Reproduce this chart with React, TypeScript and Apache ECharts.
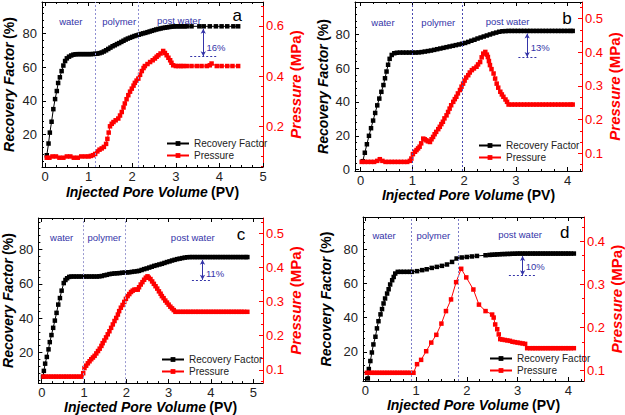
import React, { useEffect, useRef } from 'react';
import * as echarts from 'echarts';

const FONT = '"Liberation Sans", Arial, Helvetica, sans-serif';
const BLUE = '#3434a8';
const RED = '#ff0000';

// ---------------- data (x = injected PV, RF in %, P in MPa) ----------------
const aRF = [[0.04,7.5],[0.08,14.5],[0.11,21],[0.15,27.5],[0.19,35],[0.23,41],[0.27,45.8],[0.30,50.6],[0.34,54],[0.38,57.7],[0.42,61],[0.46,63.7],[0.50,65.3],[0.55,66.3],[0.60,67],[0.65,67.5],[0.70,67.7],[0.75,67.8],[0.80,67.8],[0.85,67.8],[0.90,67.8],[0.95,67.8],[1.00,67.8],[1.05,67.8],[1.10,67.9],[1.15,68],[1.20,68.1],[1.25,68.4],[1.30,68.8],[1.35,69.4],[1.40,70.1],[1.45,70.9],[1.50,71.7],[1.55,72.5],[1.60,73.1],[1.65,73.8],[1.70,74.4],[1.75,75.1],[1.80,75.8],[1.85,76.5],[1.90,77.1],[1.95,77.6],[2.00,78.1],[2.05,78.6],[2.10,79],[2.15,79.4],[2.20,79.8],[2.25,80.2],[2.30,80.5],[2.35,80.9],[2.40,81.3],[2.45,81.7],[2.50,82.1],[2.55,82.5],[2.60,82.8],[2.65,83.1],[2.70,83.4],[2.75,83.6],[2.80,83.8],[2.85,84],[2.90,84.2],[2.95,84.3],[3.00,84.4],[3.05,84.4],[3.10,84.4],[3.15,84.4],[3.20,84.4],[3.25,84.4],[3.36,84.4],[3.54,84.4],[3.64,84.4],[3.78,84.4],[3.92,84.4],[4.05,84.4],[4.18,84.4],[4.32,84.4],[4.43,84.4]];
const aP = [[0.04,0.075],[0.1,0.075],[0.17,0.08],[0.25,0.08],[0.33,0.075],[0.42,0.075],[0.5,0.08],[0.58,0.08],[0.66,0.075],[0.75,0.075],[0.83,0.08],[0.92,0.08],[1.0,0.08],[1.05,0.082],[1.1,0.085],[1.15,0.09],[1.2,0.1],[1.25,0.107],[1.3,0.112],[1.35,0.118],[1.4,0.13],[1.43,0.15],[1.46,0.175],[1.49,0.2],[1.53,0.21],[1.57,0.217],[1.62,0.224],[1.68,0.231],[1.72,0.243],[1.76,0.257],[1.8,0.275],[1.83,0.291],[1.87,0.308],[1.91,0.324],[1.95,0.338],[1.99,0.35],[2.03,0.362],[2.06,0.373],[2.1,0.382],[2.14,0.39],[2.18,0.405],[2.22,0.42],[2.26,0.432],[2.29,0.44],[2.35,0.448],[2.41,0.456],[2.47,0.463],[2.52,0.47],[2.56,0.477],[2.6,0.483],[2.65,0.49],[2.71,0.5],[2.75,0.492],[2.79,0.483],[2.83,0.473],[2.87,0.463],[2.9,0.453],[2.94,0.443],[3.0,0.44],[3.06,0.44],[3.12,0.44],[3.17,0.44],[3.25,0.44],[3.36,0.44],[3.48,0.44],[3.59,0.44],[3.71,0.44],[3.78,0.443],[3.82,0.45],[3.94,0.44],[4.05,0.44],[4.18,0.44],[4.3,0.44],[4.43,0.44]];

const bRF = [[0.04,5],[0.08,10],[0.12,15],[0.16,20],[0.2,24.5],[0.24,29],[0.28,33.5],[0.32,38],[0.36,42],[0.4,46],[0.44,50],[0.47,54],[0.5,58],[0.53,62],[0.56,65.5],[0.6,67.8],[0.65,68.8],[0.7,69.1],[0.76,69.2],[0.82,69.2],[0.88,69.2],[0.94,69.2],[1.0,69.2],[1.06,69.2],[1.12,69.3],[1.18,69.5],[1.24,69.8],[1.3,70.1],[1.36,70.4],[1.42,70.8],[1.48,71.2],[1.54,71.6],[1.6,72],[1.66,72.4],[1.72,72.8],[1.78,73.2],[1.84,73.6],[1.9,74],[1.96,74.4],[2.02,74.9],[2.08,75.5],[2.14,76.2],[2.2,76.8],[2.26,77.5],[2.32,78.1],[2.38,78.7],[2.44,79.3],[2.5,79.9],[2.56,80.5],[2.62,81],[2.68,81.5],[2.74,81.8],[2.8,81.9],[2.86,82],[2.92,82],[2.98,82],[3.04,82],[3.1,82],[3.16,82],[3.22,82],[3.28,82],[3.34,82],[3.4,82],[3.46,82],[3.52,82],[3.58,82],[3.64,82],[3.7,82],[3.76,82],[3.82,82],[3.88,82],[3.94,82],[4.0,82],[4.06,82],[4.1,82]];
const bP = [[0.02,0.075],[0.08,0.075],[0.14,0.075],[0.2,0.075],[0.26,0.075],[0.32,0.078],[0.37,0.083],[0.42,0.078],[0.48,0.075],[0.54,0.075],[0.6,0.075],[0.66,0.075],[0.72,0.075],[0.78,0.075],[0.84,0.075],[0.9,0.075],[0.95,0.078],[0.98,0.085],[1.01,0.098],[1.05,0.105],[1.08,0.11],[1.11,0.115],[1.14,0.12],[1.17,0.13],[1.21,0.144],[1.24,0.142],[1.27,0.139],[1.3,0.136],[1.34,0.134],[1.37,0.142],[1.4,0.149],[1.43,0.157],[1.46,0.164],[1.5,0.172],[1.53,0.179],[1.56,0.187],[1.59,0.194],[1.62,0.204],[1.66,0.213],[1.69,0.223],[1.72,0.233],[1.75,0.243],[1.79,0.253],[1.82,0.261],[1.85,0.268],[1.88,0.278],[1.92,0.288],[1.95,0.298],[1.98,0.307],[2.01,0.316],[2.04,0.325],[2.08,0.332],[2.11,0.34],[2.15,0.347],[2.19,0.352],[2.24,0.357],[2.27,0.364],[2.31,0.371],[2.34,0.385],[2.37,0.396],[2.41,0.401],[2.44,0.393],[2.46,0.386],[2.48,0.374],[2.5,0.362],[2.53,0.35],[2.57,0.337],[2.6,0.322],[2.63,0.307],[2.66,0.295],[2.7,0.283],[2.73,0.275],[2.76,0.268],[2.8,0.26],[2.83,0.253],[2.86,0.245],[2.92,0.245],[2.98,0.245],[3.04,0.245],[3.1,0.245],[3.16,0.245],[3.22,0.245],[3.28,0.245],[3.34,0.245],[3.4,0.245],[3.46,0.245],[3.52,0.245],[3.58,0.245],[3.64,0.245],[3.7,0.245],[3.76,0.245],[3.82,0.245],[3.88,0.245],[3.94,0.245],[4.0,0.245],[4.06,0.245],[4.1,0.245]];

const cRF = [[0.03,6],[0.05,9.4],[0.08,13.6],[0.12,17.5],[0.16,21.9],[0.19,26.1],[0.23,30.2],[0.27,34.4],[0.31,38.6],[0.35,43.1],[0.39,47.9],[0.43,51.7],[0.47,56],[0.52,60.4],[0.56,62.2],[0.6,63.2],[0.65,64],[0.7,64.2],[0.76,64.2],[0.82,64.2],[0.88,64.2],[0.94,64.2],[1.0,64.2],[1.06,64.2],[1.12,64.2],[1.18,64.2],[1.24,64.2],[1.3,64.2],[1.36,64.3],[1.42,64.5],[1.48,64.9],[1.54,65.2],[1.6,65.6],[1.66,65.8],[1.72,66],[1.78,66.1],[1.84,66.2],[1.9,66.4],[1.96,66.5],[2.02,66.6],[2.07,66.7],[2.13,66.9],[2.19,67.1],[2.25,67.3],[2.3,67.5],[2.36,68],[2.42,68.5],[2.48,68.9],[2.54,69.4],[2.6,69.9],[2.66,70.4],[2.72,70.8],[2.78,71.2],[2.84,71.6],[2.9,72.1],[2.96,72.6],[3.02,73],[3.08,73.5],[3.14,73.9],[3.2,74.3],[3.26,74.6],[3.32,74.9],[3.38,75.2],[3.44,75.4],[3.5,75.5],[3.56,75.5],[3.62,75.5],[3.68,75.5],[3.74,75.5],[3.8,75.5],[3.86,75.5],[3.92,75.5],[3.98,75.5],[4.04,75.5],[4.1,75.5],[4.16,75.5],[4.22,75.5],[4.28,75.5],[4.34,75.5],[4.4,75.5],[4.46,75.5],[4.52,75.5],[4.58,75.5],[4.64,75.5],[4.7,75.5],[4.76,75.5],[4.82,75.5],[4.86,75.5]];
const cP = [[0.04,0.08],[0.1,0.08],[0.16,0.08],[0.22,0.08],[0.28,0.08],[0.34,0.08],[0.4,0.08],[0.46,0.08],[0.52,0.08],[0.58,0.08],[0.64,0.08],[0.7,0.08],[0.76,0.08],[0.82,0.08],[0.88,0.08],[0.94,0.08],[0.98,0.09],[1.01,0.105],[1.05,0.112],[1.09,0.119],[1.13,0.125],[1.17,0.131],[1.21,0.136],[1.25,0.141],[1.29,0.148],[1.33,0.155],[1.37,0.162],[1.41,0.17],[1.44,0.178],[1.48,0.186],[1.52,0.195],[1.56,0.204],[1.6,0.213],[1.64,0.223],[1.68,0.233],[1.72,0.243],[1.76,0.252],[1.8,0.262],[1.83,0.272],[1.87,0.282],[1.91,0.29],[1.95,0.299],[1.99,0.308],[2.03,0.316],[2.07,0.322],[2.11,0.328],[2.15,0.332],[2.19,0.335],[2.23,0.335],[2.27,0.335],[2.3,0.342],[2.34,0.35],[2.38,0.357],[2.42,0.364],[2.46,0.37],[2.5,0.374],[2.53,0.37],[2.57,0.366],[2.61,0.359],[2.65,0.352],[2.69,0.345],[2.73,0.338],[2.77,0.33],[2.81,0.323],[2.84,0.316],[2.88,0.31],[2.92,0.303],[2.96,0.297],[3.0,0.291],[3.04,0.285],[3.08,0.28],[3.12,0.275],[3.16,0.27],[3.22,0.27],[3.28,0.27],[3.34,0.27],[3.4,0.27],[3.46,0.27],[3.52,0.27],[3.58,0.27],[3.64,0.27],[3.7,0.27],[3.76,0.27],[3.82,0.27],[3.88,0.27],[3.94,0.27],[4.0,0.27],[4.06,0.27],[4.12,0.27],[4.18,0.27],[4.24,0.27],[4.3,0.27],[4.36,0.27],[4.42,0.27],[4.48,0.27],[4.54,0.27],[4.6,0.27],[4.66,0.27],[4.72,0.27],[4.78,0.27],[4.86,0.27]];

const dRF = [[0.05,4.4],[0.07,9.9],[0.1,14.6],[0.13,19.6],[0.16,24.3],[0.2,28.8],[0.23,33.7],[0.26,37.9],[0.3,41.9],[0.33,45],[0.36,48.3],[0.39,51.2],[0.43,54.1],[0.46,56.6],[0.49,59.4],[0.53,61.9],[0.56,63.8],[0.59,65.8],[0.64,66.8],[0.7,66.8],[0.76,66.8],[0.82,66.8],[0.88,66.8],[0.92,66.8],[1.02,67.2],[1.12,67.8],[1.21,68.3],[1.31,69.1],[1.41,69.7],[1.51,70.3],[1.61,71.1],[1.71,72.6],[1.8,74.6],[1.9,75.2],[2.0,75.5],[2.1,75.8],[2.2,76.1],[2.37,76.5],[2.45,76.7],[2.5,76.8],[2.55,76.9],[2.6,77],[2.65,77.1],[2.7,77.2],[2.75,77.2],[2.8,77.3],[2.85,77.3],[2.9,77.4],[2.95,77.4],[3.0,77.5],[3.05,77.5],[3.1,77.5],[3.15,77.5],[3.2,77.5],[3.25,77.5],[3.3,77.5],[3.35,77.5],[3.4,77.5],[3.45,77.5],[3.5,77.5],[3.55,77.5],[3.6,77.5],[3.65,77.5],[3.7,77.5],[3.75,77.5],[3.8,77.5],[3.85,77.5],[3.9,77.5],[3.95,77.5],[4.0,77.5],[4.05,77.5],[4.11,77.5]];
const dP = [[0.03,0.095],[0.08,0.095],[0.13,0.095],[0.18,0.095],[0.23,0.095],[0.28,0.095],[0.33,0.095],[0.38,0.095],[0.43,0.095],[0.48,0.095],[0.53,0.095],[0.58,0.095],[0.63,0.095],[0.68,0.095],[0.73,0.095],[0.78,0.095],[0.83,0.095],[0.88,0.095],[0.95,0.095],[1.02,0.115],[1.1,0.125],[1.2,0.145],[1.3,0.165],[1.4,0.183],[1.5,0.209],[1.59,0.238],[1.69,0.265],[1.79,0.305],[1.89,0.336],[1.99,0.316],[2.13,0.288],[2.24,0.253],[2.37,0.238],[2.5,0.23],[2.53,0.223],[2.56,0.207],[2.6,0.196],[2.63,0.184],[2.66,0.173],[2.7,0.172],[2.75,0.171],[2.8,0.17],[2.85,0.169],[2.9,0.167],[2.95,0.166],[3.0,0.165],[3.05,0.164],[3.1,0.163],[3.15,0.162],[3.19,0.152],[3.25,0.152],[3.3,0.152],[3.35,0.152],[3.4,0.152],[3.45,0.152],[3.5,0.152],[3.55,0.152],[3.6,0.152],[3.65,0.152],[3.7,0.152],[3.75,0.152],[3.8,0.152],[3.85,0.152],[3.9,0.152],[3.95,0.152],[4.0,0.152],[4.05,0.152],[4.11,0.152]];

// ---------------- tick labels ----------------
const xTicks5 = [0, 1, 2, 3, 4, 5];
const xTicks4 = [0, 1, 2, 3, 4];
const rfTicksA = [20, 40, 60, 80];
const rfTicksB = [0, 20, 40, 60, 80];
const pTicksA = [0.2, 0.4, 0.6];
const pTicksB = [0.1, 0.2, 0.3, 0.4, 0.5];
const pTicksD = [0.1, 0.2, 0.3, 0.4];

const phaseNames = ['water', 'polymer', 'post water'];
const panelLetters = ['a', 'b', 'c', 'd'];
const increments = ['16%', '13%', '11%', '10%'];
const phaseBounds = [[1.15, 2.14], [0.99, 1.97], [0.98, 1.98], [0.9, 1.84]];

// ---------------- layout ----------------
const panels = [
  {
    rf: aRF, p: aP, grid: { left: 42, top: 2, width: 221, height: 165 },
    x: [-0.07, 5], yl: [0.5, 98.9], yr: [0.038, 0.695],
    xTicks: xTicks5, ylTicks: rfTicksA, yrTicks: pTicksA, xMinor: 0.25, ylMinor: 4, yrMinor: 0.04,
    phaseColor: '#8f8fd2',
    phasePos: [[0.59, 87], [1.7, 87], [3.07, 88]], letterPos: [4.41, 91],
    arrow: [3.63, 83, 66.5], dash: [3.33, 3.94, 66.5], incPos: [3.69, 72],
    legend: { left: 166, top: 138 }, xGap: 18, ylGap: 26, yrGap: 22,
  },
  {
    rf: bRF, p: bP, grid: { left: 355, top: 2, width: 227, height: 169 },
    x: [-0.11, 4.28], yl: [-0.8, 99.1], yr: [0.048, 0.549],
    xTicks: xTicks4, ylTicks: rfTicksB, yrTicks: pTicksB, xMinor: 0.25, ylMinor: 4, yrMinor: 0.1 / 3,
    phaseColor: '#4a4ab0',
    phasePos: [[0.43, 86.7], [1.5, 86.7], [2.84, 87.3]], letterPos: [3.99, 89.3],
    arrow: [3.22, 80.5, 66.6], dash: [3.05, 3.41, 66.6], incPos: [3.28, 72.4],
    legend: { left: 478, top: 140 }, xGap: 15, ylGap: 25, yrGap: 24,
  },
  {
    rf: cRF, p: cP, grid: { left: 37, top: 218, width: 226, height: 166 },
    x: [-0.08, 5.23], yl: [2.3, 98.2], yr: [0.061, 0.545],
    xTicks: xTicks5, ylTicks: rfTicksA, yrTicks: pTicksB, xMinor: 0.25, ylMinor: 4, yrMinor: 0.1 / 3,
    phaseColor: '#9a9ad0',
    phasePos: [[0.47, 86.9], [1.48, 86.9], [3.57, 86.9]], letterPos: [4.71, 88.7],
    arrow: [3.8, 74, 62.3], dash: [3.55, 4.01, 62.3], incPos: [3.87, 66.2],
    legend: { left: 161, top: 354 }, xGap: 16, ylGap: 21, yrGap: 25,
  },
  {
    rf: dRF, p: dP, grid: { left: 363, top: 217, width: 221, height: 164 },
    x: [-0.045, 4.31], yl: [2.9, 98.9], yr: [0.076, 0.456],
    xTicks: xTicks4, ylTicks: rfTicksA, yrTicks: pTicksD, xMinor: 0.25, ylMinor: 4, yrMinor: 0.1 / 3,
    phaseColor: '#7c7cc8',
    phasePos: [[0.37, 88.2], [1.34, 88.2], [3.05, 88.6]], letterPos: [3.93, 90.1],
    arrow: [3.1, 76, 64.8], dash: [2.83, 3.35, 64.8], incPos: [3.15, 69.7],
    legend: { left: 489, top: 353 }, xGap: 16, ylGap: 30, yrGap: 26,
  },
];

function tickRange(min: number, max: number, step: number) {
  const out: number[] = [];
  const s = Math.ceil((min - 1e-9) / step);
  for (let k = s; k * step <= max + 1e-9; k++) out.push(+(k * step).toFixed(6));
  return out;
}

function textMark(x: number, y: number, text: string, color: string, size: number, pos: string) {
  return {
    coord: [x, y], symbol: 'rect', symbolSize: 1, itemStyle: { color: 'rgba(0,0,0,0)' },
    label: { show: true, position: pos, distance: 0, formatter: text, color, fontSize: size, fontFamily: FONT },
  };
}

function buildOption() {
  const xAxis: any[] = [];
  const yAxis: any[] = [];
  const series: any[] = [];
  const legend: any[] = [];
  const hidden = { show: false };
  const nameRich = (color: string, size: number) => ({
    bi: { fontStyle: 'italic', fontWeight: 'bold', fontSize: size, fontFamily: FONT, color },
    b: { fontWeight: 'bold', fontSize: size, fontFamily: FONT, color },
  });

  panels.forEach((p, i) => {
    const xb = xAxis.length;
    const yb = yAxis.length;
    const baseX = { gridIndex: i, type: 'value', min: p.x[0], max: p.x[1], splitLine: hidden };
    xAxis.push(
      {
        ...baseX, position: 'bottom',
        axisLine: { show: true, onZero: false, lineStyle: { color: '#000', width: 1 } },
        axisTick: { show: true, inside: true, length: 4, customValues: p.xTicks, lineStyle: { color: '#000' } },
        axisLabel: { show: true, customValues: p.xTicks, fontSize: 13, color: '#222', margin: 3, fontFamily: FONT },
        name: '{bi|Injected Pore Volume} {b|(PV)}', nameLocation: 'middle', nameGap: p.xGap,
        nameTextStyle: { rich: nameRich('#000', 14) },
      },
      {
        ...baseX, position: 'bottom', axisLine: { show: false, onZero: false },
        axisTick: { show: true, inside: true, length: 2, customValues: tickRange(p.x[0], p.x[1], p.xMinor), lineStyle: { color: '#000' } },
        axisLabel: hidden,
      },
      {
        ...baseX, position: 'top',
        axisLine: { show: true, onZero: false, lineStyle: { color: '#000', width: 1 } },
        axisTick: { show: true, inside: true, length: 4, customValues: p.xTicks, lineStyle: { color: '#000' } },
        axisLabel: hidden,
      },
      {
        ...baseX, position: 'top', axisLine: { show: false, onZero: false },
        axisTick: { show: true, inside: true, length: 2, customValues: tickRange(p.x[0], p.x[1], p.xMinor), lineStyle: { color: '#000' } },
        axisLabel: hidden,
      },
    );
    const baseYL = { gridIndex: i, type: 'value', min: p.yl[0], max: p.yl[1], splitLine: hidden, position: 'left' };
    const baseYR = { gridIndex: i, type: 'value', min: p.yr[0], max: p.yr[1], splitLine: hidden, position: 'right' };
    yAxis.push(
      {
        ...baseYL,
        axisLine: { show: true, onZero: false, lineStyle: { color: '#000', width: 1 } },
        axisTick: { show: true, inside: true, length: 4, customValues: p.ylTicks, lineStyle: { color: '#000' } },
        axisLabel: { show: true, customValues: p.ylTicks, fontSize: 13, color: '#222', margin: 5, fontFamily: FONT },
        name: '{bi|Recovery Factor} {b|(%)}', nameLocation: 'middle', nameGap: p.ylGap, nameRotate: 90,
        nameTextStyle: { rich: nameRich('#000', 14) },
      },
      {
        ...baseYL, axisLine: { show: false, onZero: false },
        axisTick: { show: true, inside: true, length: 2, customValues: tickRange(p.yl[0], p.yl[1], p.ylMinor), lineStyle: { color: '#000' } },
        axisLabel: hidden,
      },
      {
        ...baseYR,
        axisLine: { show: true, onZero: false, lineStyle: { color: RED, width: 1 } },
        axisTick: { show: true, inside: true, length: 4, customValues: p.yrTicks, lineStyle: { color: RED } },
        axisLabel: { show: true, customValues: p.yrTicks, fontSize: 13, color: RED, margin: 3, fontFamily: FONT },
        name: '{bi|Pressure} {b|(MPa)}', nameLocation: 'middle', nameGap: p.yrGap - 1, nameRotate: 90,
        nameTextStyle: { rich: nameRich(RED, 15) },
      },
      {
        ...baseYR, axisLine: { show: false, onZero: false },
        axisTick: { show: true, inside: true, length: 2, customValues: tickRange(p.yr[0], p.yr[1], p.yrMinor), lineStyle: { color: RED } },
        axisLabel: hidden,
      },
    );

    const marks: any[] = phaseBounds[i].map((v) => ({
      xAxis: v, lineStyle: { color: p.phaseColor, type: [2, 2], width: 1 },
    }));
    marks.push([
      { coord: [p.dash[0], p.dash[2]], lineStyle: { color: BLUE, type: [2, 2], width: 1 } },
      { coord: [p.dash[1], p.dash[2]] },
    ]);
    marks.push([
      { coord: [p.arrow[0], p.arrow[1]], symbol: 'arrow', symbolSize: [4, 5], lineStyle: { color: BLUE, type: 'solid', width: 1 } },
      { coord: [p.arrow[0], p.arrow[2]], symbol: 'arrow', symbolSize: [4, 5] },
    ]);

    const texts: any[] = phaseNames.map((n, k) => textMark(p.phasePos[k][0], p.phasePos[k][1], n, BLUE, 9.5, 'inside'));
    texts.push(textMark(p.letterPos[0], p.letterPos[1], panelLetters[i], '#000', 17, 'inside'));
    texts.push(textMark(p.incPos[0], p.incPos[1], increments[i], BLUE, 9.5, 'right'));

    series.push(
      {
        type: 'line', name: 'Recovery Factor', xAxisIndex: xb, yAxisIndex: yb, data: p.rf,
        symbol: 'rect', symbolSize: 4.5, showSymbol: true,
        itemStyle: { color: '#000' }, lineStyle: { color: '#000', width: 1 },
        markLine: { silent: true, symbol: 'none', label: { show: false }, data: marks, animation: false },
        markPoint: { silent: true, data: texts, animation: false },
        z: 3,
      },
      {
        type: 'line', name: 'Pressure', xAxisIndex: xb, yAxisIndex: yb + 2, data: p.p,
        symbol: 'rect', symbolSize: 4.5, showSymbol: true,
        itemStyle: { color: RED }, lineStyle: { color: RED, width: 1 },
        z: 4,
      },
    );

    legend.push({
      data: ['Recovery Factor', 'Pressure'], orient: 'vertical', left: p.legend.left, top: p.legend.top,
      itemWidth: 22, itemHeight: 6, itemGap: 1, padding: 0, selectedMode: false,
      textStyle: { fontSize: 10, color: '#222', fontFamily: FONT, lineHeight: 11 },
    });
  });

  return {
    animation: false,
    textStyle: { fontFamily: FONT },
    grid: panels.map((p) => ({ ...p.grid, containLabel: false })),
    xAxis, yAxis, series, legend,
  };
}

export default function App() {
  const ref = useRef<HTMLDivElement>(null);
  useEffect(() => {
    document.body.style.margin = '0';
    const chart = echarts.init(ref.current!, undefined, { renderer: 'svg' });
    chart.setOption(buildOption() as any);
    return () => chart.dispose();
  }, []);
  return <div ref={ref} style={{ width: 625, height: 415, background: '#fff' }} />;
}
